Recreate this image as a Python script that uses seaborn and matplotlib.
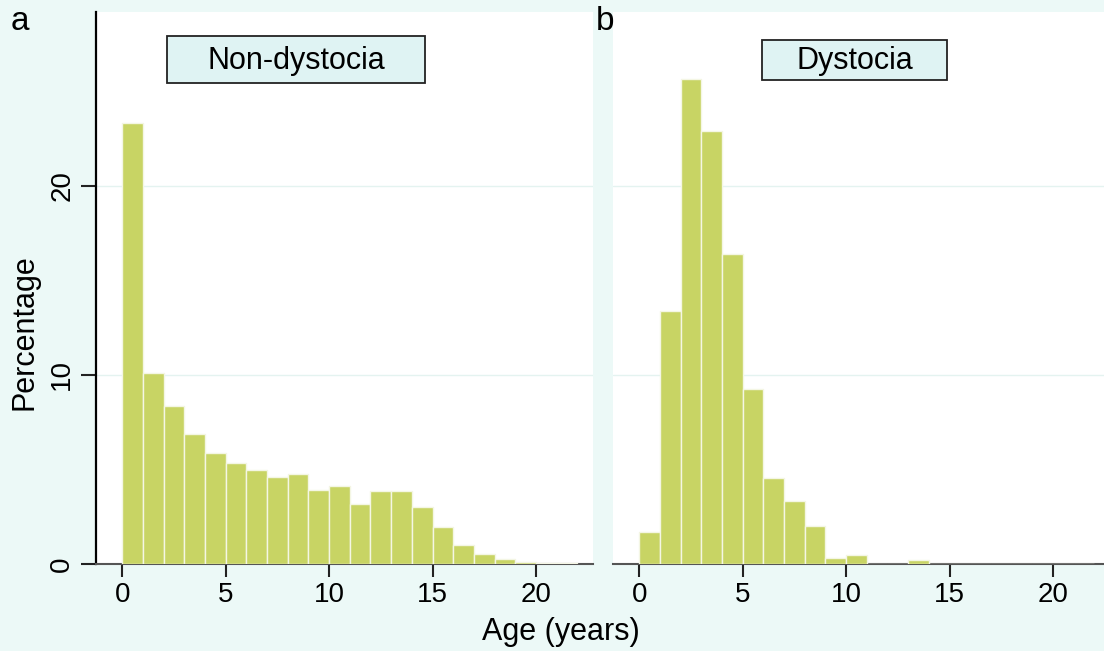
import numpy as np
import pandas as pd
import matplotlib
matplotlib.use("Agg")
import matplotlib.pyplot as plt
from matplotlib.patches import Rectangle
import seaborn as sns

# Data (percentages per 1-year age bin, bins start at 0)
age_bins = list(range(0, 23))
non_dystocia = [23.35, 10.1, 8.34, 6.86, 5.89, 5.34, 4.99, 4.60, 4.78, 3.94, 4.10,
                3.20, 3.85, 3.85, 3.02, 1.96, 0.99, 0.55, 0.29, 0.10, 0.05, 0.03]
dystocia = [1.69, 13.39, 25.64, 22.91, 16.42, 9.28, 4.55, 3.33, 1.99, 0.32, 0.46,
            0.0, 0.0, 0.20, 0.0, 0.0, 0.0, 0.0, 0.0, 0.0, 0.0, 0.0]
panel_titles = ["Non-dystocia", "Dystocia"]
panel_letters = ["a", "b"]
x_ticks = [0, 5, 10, 15, 20]
y_ticks = [0, 10, 20]

sns.set_theme(style="white")
plt.rcParams['font.family'] = ['Liberation Sans', 'DejaVu Sans']
plt.rcParams['text.color'] = 'black'
plt.rcParams['xtick.color'] = 'black'
plt.rcParams['ytick.color'] = 'black'

bg = "#ecf9f7"
bar_color = "#c8d464"
W, H = 1104, 651
fig = plt.figure(figsize=(W / 100, H / 100), dpi=100, facecolor=bg)

def fx(px):
    return px / W

def fy(py):
    return 1 - py / H

top_px, bot_px = 12, 564
ax1 = fig.add_axes([fx(96), fy(bot_px), fx(593 - 96), (bot_px - top_px) / H])
ax2 = fig.add_axes([fx(613), fy(bot_px), fx(593 - 96), (bot_px - top_px) / H])

edges = [float(e) for e in range(0, 23)]
for ax, vals in [(ax1, non_dystocia), (ax2, dystocia)]:
    df = pd.DataFrame({"age": [b + 0.5 for b in age_bins[:len(vals)]], "pct": vals})
    sns.histplot(data=df, x="age", weights="pct", bins=edges, ax=ax,
                 color=bar_color, edgecolor="#f4f6e4", linewidth=1.0, alpha=1.0,
                 zorder=3)
    ax.set_facecolor("white")
    ax.set_xlim(-1.27, 22.76)
    ax.set_ylim(0, 29.2)
    ax.set_xticks(x_ticks)
    ax.set_xticklabels([str(t) for t in x_ticks])
    ax.set_yticks(y_ticks)
    ax.yaxis.grid(True, color="#e4f3f0", linewidth=1.0, zorder=0)
    ax.xaxis.grid(False)
    ax.set_axisbelow(True)
    ax.set_xlabel("")
    ax.set_ylabel("")
    for s in ["top", "right"]:
        ax.spines[s].set_visible(False)
    ax.spines["bottom"].set_color("#555555")
    ax.spines["bottom"].set_linewidth(1.5)
    ax.tick_params(axis="x", which="major", bottom=True, length=9, width=1.5,
                   color="#222222", pad=4, labelsize=20, labelcolor="black")

ax1.spines["left"].set_color("black")
ax1.spines["left"].set_linewidth(1.6)
ax1.tick_params(axis="y", left=True, length=11, width=1.5, color="#222222",
                labelsize=20, pad=4, labelcolor="black")
ax1.set_yticklabels([str(t) for t in y_ticks], rotation=90, va="center")

ax2.spines["left"].set_visible(False)
ax2.tick_params(axis="y", left=False, labelleft=False)

# panel title boxes (pixel extents)
for (x0, x1, y0, y1), title in [((167, 425, 36, 83), panel_titles[0]),
                                 ((762, 947, 40, 80), panel_titles[1])]:
    fig.patches.append(Rectangle((fx(x0), fy(y1)), fx(x1 - x0), (y1 - y0) / H,
                                 transform=fig.transFigure, facecolor="#dff3f3",
                                 edgecolor="#222222", linewidth=1.3, zorder=5))
    fig.text(fx((x0 + x1) / 2), fy((y0 + y1) / 2 + 1), title, ha="center", va="center",
             fontsize=22, color="black", zorder=6)

fig.text(fx(11), fy(22), panel_letters[0], ha="left", va="center", fontsize=24)
fig.text(fx(596), fy(22), panel_letters[1], ha="left", va="center", fontsize=24)

fig.text(fx(25), fy(332), "Percentage", rotation=90, ha="center", va="center", fontsize=22)
fig.text(fx(561), fy(632), "Age (years)", ha="center", va="center", fontsize=22)

fig.savefig("out.png", dpi=100, facecolor=bg)
